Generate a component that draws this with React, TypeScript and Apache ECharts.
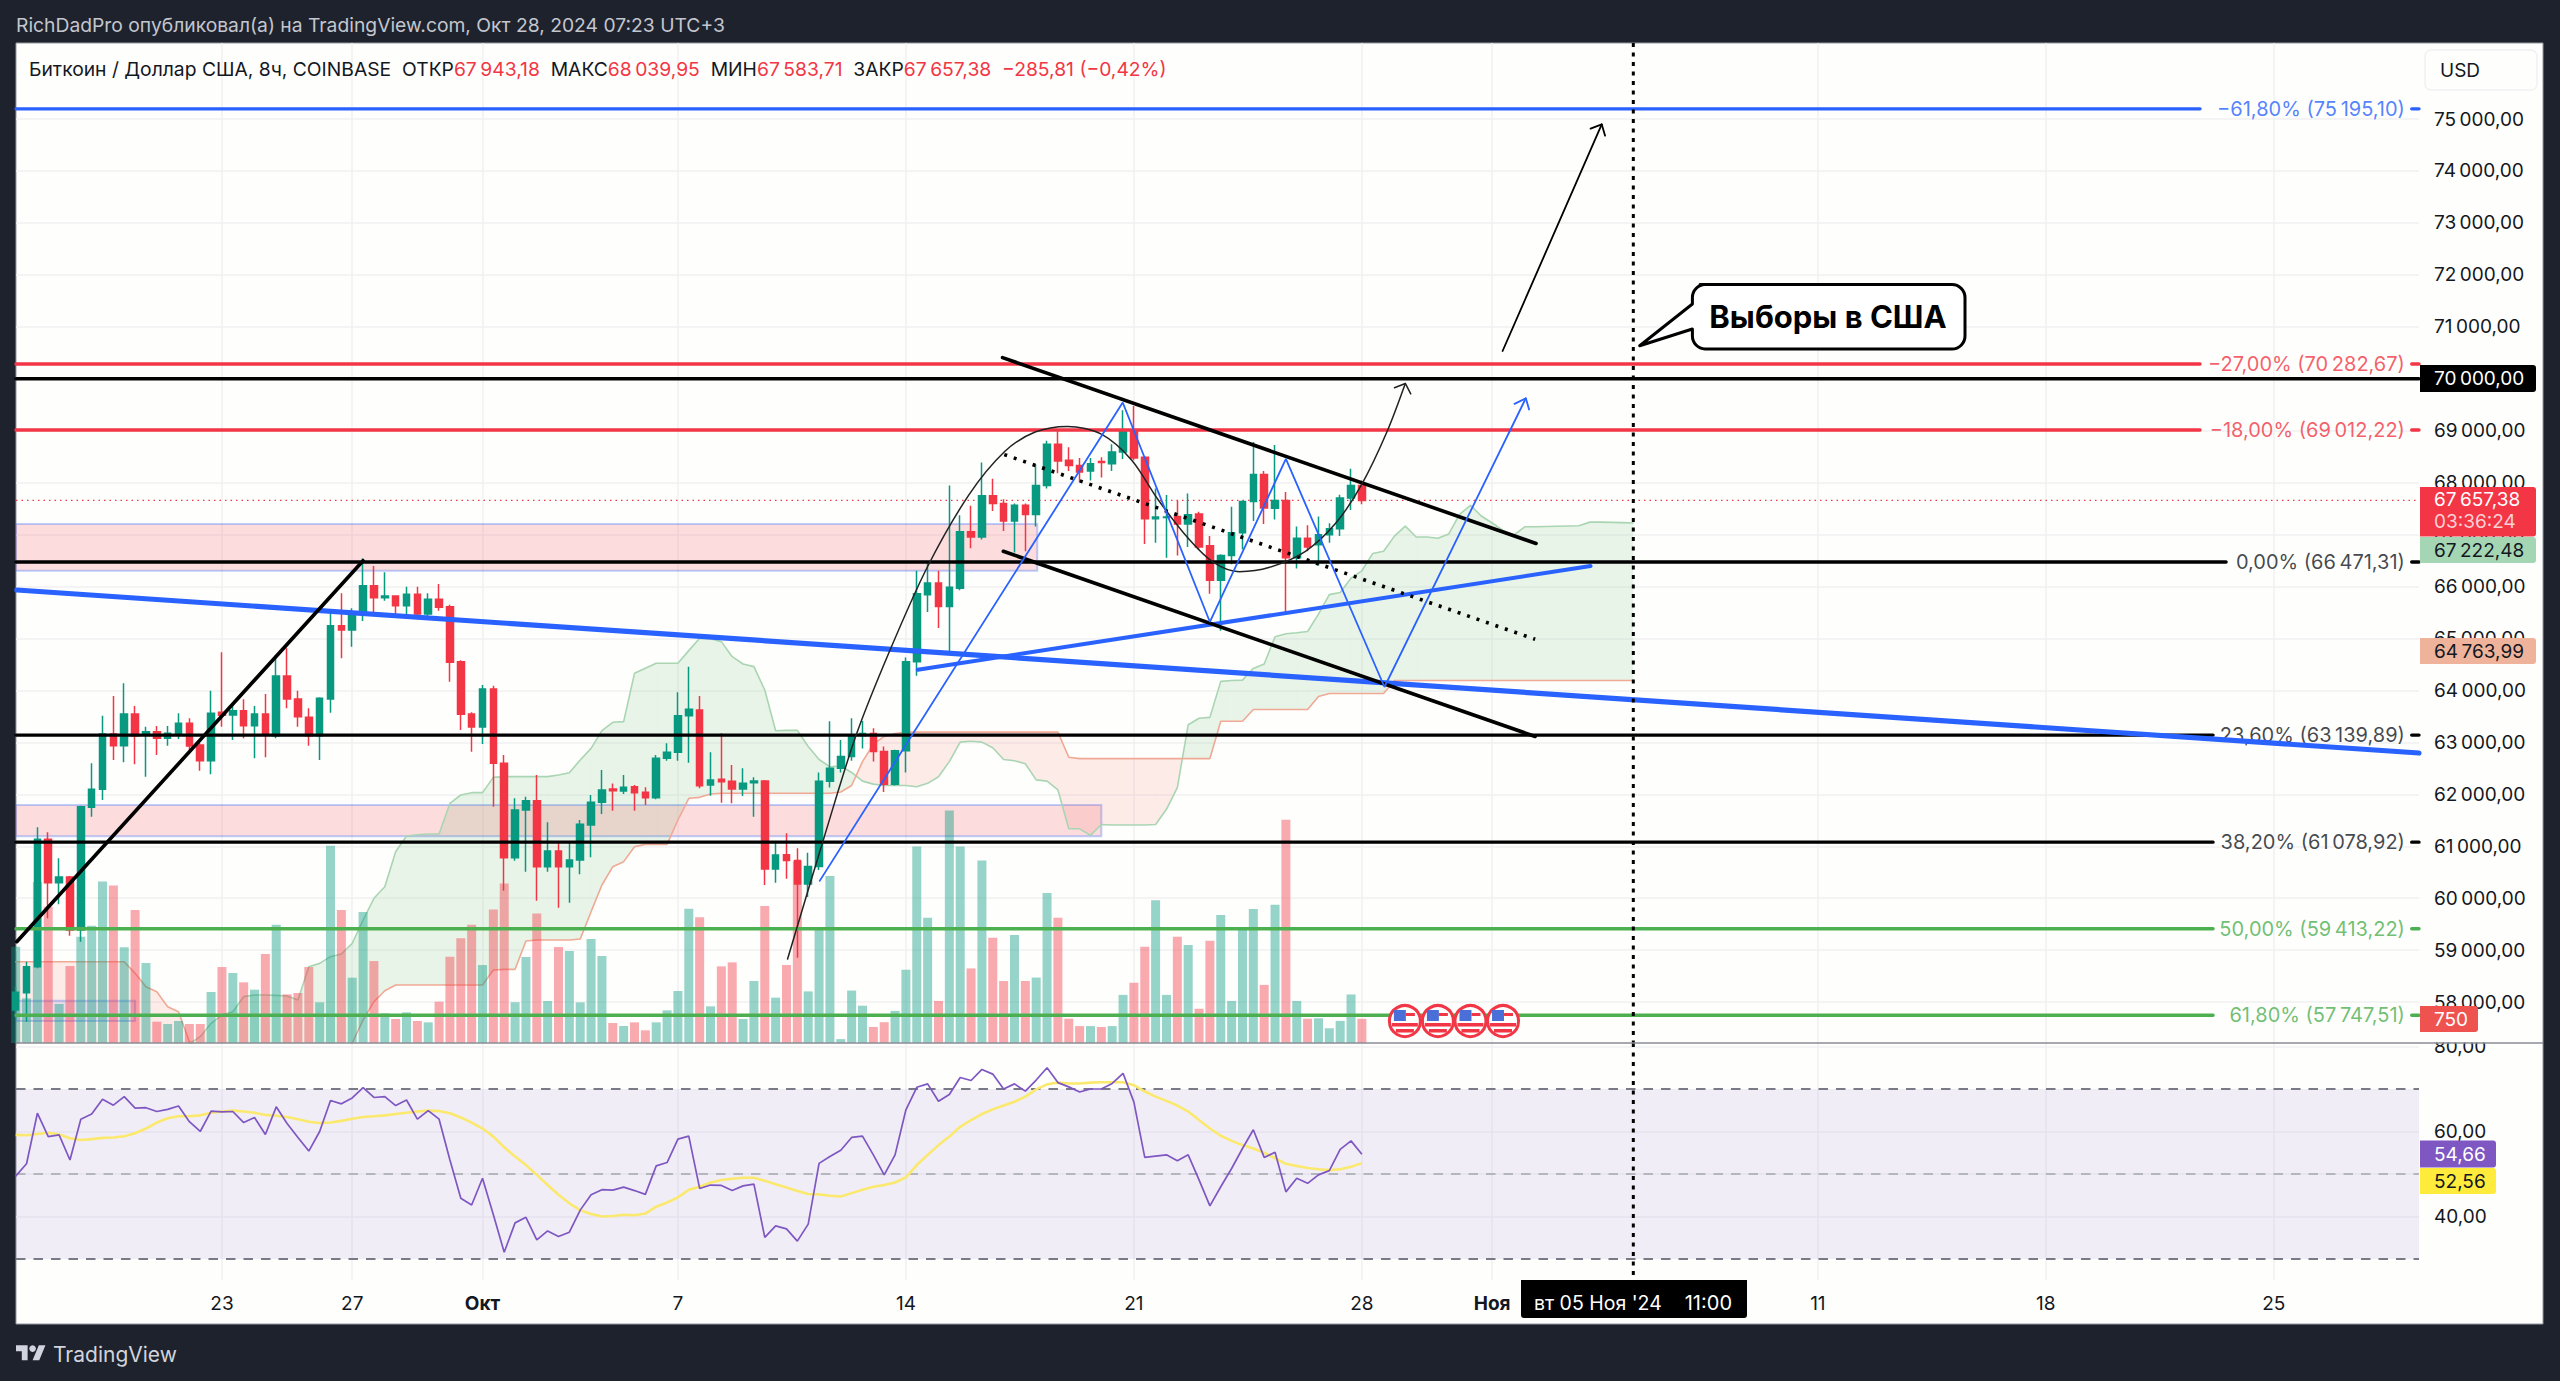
import React, { useEffect, useRef } from "react";
import * as echarts from "echarts";

const W = 2560, H = 1381;
const FONT = "Inter, 'Noto Sans', sans-serif";
const INK = "#131722", GREEN = "#089981", RED = "#f23645", BLUE = "#2962ff";
const X_MIN = 0.03, X_MAX = 221.37;

// 8h candles: index 124 is the 28 Oct bar, index 0 the first partly visible one
const openVals = [57848,58182,58682,61134,60299,60408,59388,61750,62096,63161,62937,63546,63142,63206,63078,63142,63367,62950,62648,63578,63527,63610,63322,63546,63129,64278,63835,63482,63129,63835,65247,65163,65497,66017,65786,65818,65632,65850,65471,65754,65612,64554,63546,63296,64028,62597,60781,61698,61878,60607,60909,60607,60736,61410,61846,62103,62064,62147,62038,61936,62693,62808,63514,63623,62179,62289,62250,62103,62224,62256,60562,60835,60726,60276,60610,62254,62504,62730,63131,63172,62822,62196,62838,64550,65843,66069,65618,65969,67054,66954,67747,67597,67263,67563,67388,67947,68740,68431,68331,68223,68407,68365,68590,69016,68490,67305,67330,67346,67205,67396,66787,66119,66595,67037,67639,68156,67505,67655,66553,66929,66804,66996,67113,67705,67943.18];
const highVals = [58300,58779,61365,61268,60768,60430,61782,62597,63514,63893,64137,63700,63303,63315,63315,63559,63463,62990,63995,64733,63752,63829,63700,63931,64682,64810,63995,63655,63870,65548,65869,65580,66543,66395,66274,65830,65998,65998,65869,66049,65650,64580,63580,64105,64092,62757,61923,61955,62372,61461,61057,61089,61506,61987,62468,62210,62372,62180,62135,62757,62982,63963,64457,63893,62808,63174,62564,62500,62330,62275,61101,61252,60960,60877,62421,63406,63047,63465,63410,63272,62922,62860,64633,66303,66470,66303,67947,67371,67555,68390,68073,67680,67600,67600,68348,68807,69016,68682,68473,68473,68490,68740,69392,69475,68515,67889,67764,67655,67789,67440,66971,66620,67538,67655,68782,68223,68724,67822,67154,67179,67346,67220,67765,68265,68039.95];
const lowVals = [57700,57623,58650,59613,59882,59279,59163,61570,61891,62661,62616,62577,62340,62757,62937,63065,62821,62455,62385,63303,63046,63078,62693,62712,63078,63655,63303,62937,62661,63572,64618,64843,65337,65497,65728,65452,65388,65407,65433,65536,64169,63238,62821,62969,61762,60145,60723,60511,59953,60511,59818,59914,60460,60787,61621,61685,62006,61685,61795,61904,62648,62648,62609,62115,61974,61839,61827,61968,61570,60255,60299,60376,58856,60025,60543,62129,62421,62646,62880,62630,62045,62170,62421,64283,65510,65201,64758,65927,66737,66904,67455,67071,66654,66679,67154,67889,68181,68223,68014,68039,68098,68223,68457,68431,66820,66845,66553,66595,66762,66704,65860,65151,66428,66720,67263,67205,67288,65510,66345,66679,66403,66845,66971,67472,67583.71];
const closeVals = [58188,58682,61134,60299,60408,59388,61762,62096,63161,62937,63546,63129,63206,63078,63174,63367,62930,62648,63559,63521,63610,63322,63546,63142,64278,63835,63495,63129,63848,65247,65163,65497,66017,65786,65818,65632,65850,65471,65754,65600,64541,63540,63296,64028,62597,60781,61698,61878,60607,60909,60607,60736,61422,61846,62083,62070,62135,62032,61936,62693,62808,63514,63636,62167,62276,62244,62103,62212,62256,60562,60832,60726,60276,60610,62254,62504,62730,63131,63170,62822,62196,62838,64550,65860,66069,65618,65986,67054,66954,67747,67597,67263,67563,67388,67947,68740,68415,68331,68206,68365,68390,68590,69016,68473,67305,67338,67340,67205,67380,66762,66119,66595,67037,67639,68156,67513,67655,66553,66929,66762,66996,67113,67705,67947,67657.38];
const volumeVals = [2985,1385,4990,4225,1209,2386,3295,3636,5010,4886,2965,4122,2479,661,589,682,589,589,1581,2355,2169,1880,1653,2758,3667,1508,1550,2355,1260,6115,4122,2025,4060,2541,919,744,950,682,640,1281,2675,3244,3667,2417,4142,4948,1260,2665,4018,1302,2975,2851,1260,3223,2696,620,527,640,393,640,1012,1612,4163,3895,1136,2376,2500,744,1921,4246,1405,2417,5631,1599,3548,5174,120,1626,1156,497,645,995,2271,6088,3884,1304,7204,6088,2312,5658,3266,1922,3347,1922,2029,4650,3884,753,524,524,497,524,1492,1868,2984,4422,1492,3293,3037,1062,3172,3965,1304,3548,4153,1801,4287,6922,1304,753,766,457,685,1505,750];
const rsiVals = [49.5,52.4,64.3,58.8,59.2,53.3,62.9,64.1,67.6,66.2,68.2,65.5,65.6,64.7,65.2,66.0,62.3,60.0,64.8,64.6,64.7,62.1,63.3,59.3,65.8,61.9,58.6,55.4,60.0,67.3,66.5,67.9,70.3,68.0,68.2,66.1,67.4,62.9,64.9,62.9,53.3,44.3,42.7,49.0,40.4,31.6,38.5,39.8,34.5,36.6,35.3,36.3,41.5,45.1,46.3,46.2,46.9,46.1,45.2,51.9,52.7,58.2,58.9,46.6,47.4,47.3,46.1,47.2,47.6,35.1,37.8,37.1,34.2,38.2,52.5,54.1,55.6,58.6,58.9,54.5,49.8,54.5,65.1,70.4,71.2,67.1,68.7,72.7,72.0,74.6,73.5,70.0,71.2,69.5,72.1,75.0,71.5,70.5,69.3,70.0,70.0,71.3,73.7,66.9,53.9,54.2,54.5,53.1,54.5,48.6,42.5,47.0,51.3,56.0,60.4,53.9,55.1,45.8,49.0,47.8,49.8,50.8,55.8,57.8,54.66];
const rsiMaVals = [59.2,59.1,59.4,59.7,59.3,58.4,58.0,58.2,58.5,58.6,58.9,59.6,60.7,62.1,63.1,63.6,63.6,63.8,64.4,64.7,64.9,64.7,64.4,63.9,63.7,63.4,62.9,62.3,62.0,62.1,62.5,63.0,63.4,63.6,63.8,64.1,64.4,64.7,64.9,64.8,64.3,63.3,62.1,60.7,58.8,56.3,54.1,52.1,49.8,47.4,45.1,43.1,41.5,40.6,40.0,40.1,40.4,40.3,40.7,42.3,43.3,44.5,46.3,47.0,48.0,48.6,48.9,49.1,49.1,48.4,47.6,46.8,46.0,45.3,45.2,44.9,44.7,45.5,46.3,47.0,47.4,48.0,49.2,52.1,54.5,56.8,58.8,61.1,62.7,64.1,65.2,66.1,67.0,68.2,69.9,71.1,71.5,71.3,71.3,71.5,71.6,71.6,71.6,70.9,69.4,68.2,67.2,66.1,64.7,62.7,60.7,59.0,57.8,56.8,56.0,55.0,53.7,52.4,51.9,51.4,51.1,50.9,51.1,51.7,52.56];
const spanA = [56000,56100,56200,56300,56400,56500,56600,56700,56750,56800,56850,56880,56900,56950,56980,57050,57200,57335,57591,57752,57816,58105,58137,58137,58130,58117,58041,58682,58746,58875,58926,59132,59581,59998,60222,60896,61198,61223,61236,61236,61827,61987,62032,62032,62327,62340,62340,62340,62340,62340,62372,62417,62661,62885,63226,63386,63399,64329,64425,64522,64522,64522,64766,65003,64997,64939,64650,64509,64458,64008,63225,63231,63231,62922,62671,62530,62546,62421,62254,62196,62171,62171,62171,62146,62212,62338,62630,63005,63022,63005,62897,62671,62646,62588,62279,62254,62087,61336,61336,61211,61419,61410,61410,61410,61410,61419,61712,62129,63339,63465,63481,64174,64191,64199,64424,64508,65034,65092,65109,65134,65468,65844,65885,66161,66303,66637,66678,66971,67163,66954,66954,66929,67012,67388,67562,67358,67223,67080,66990,67150,67150,67155,67160,67165,67170,67240,67240,67235,67230,67222.48];
const spanB = [58778,58778,58778,58778,58778,58778,58778,58778,58778,58778,58778,58554,58297,58201,57912,57816,57239,57100,57000,56950,56900,56850,56850,56850,56850,56850,56850,56850,56850,56900,57000,57213,57656,58008,58220,58329,58329,58329,58329,58329,58329,58329,58329,58329,58618,58631,58631,59176,59196,59196,59196,59196,59215,59741,60255,60607,60704,60992,61037,61037,61037,61506,61923,61942,62006,62020,62020,62020,62020,62020,62020,62020,62020,62020,62020,62020,62045,62170,62630,62964,63114,63172,63197,63197,63197,63197,63197,63197,63197,63197,63197,63197,63197,63197,63197,63197,63197,62713,62688,62688,62688,62688,62688,62688,62688,62688,62688,62688,62688,62688,62688,63406,63406,63406,63632,63632,63632,63632,63632,63632,63882,63940,63940,63940,63940,63940,63940,64191,64191,64191,64191,64191,64191,64191,64191,64191,64191,64191,64191,64191,64191,64191,64191,64191,64191,64191,64191,64191,64191,64191];

// axis ticks, as bar indexes and labels
const dateTickIndex = [19, 31, 43, 61, 82, 103, 124, 136, 166, 187, 208];
const dateTickLabels = ["23", "27", "Окт", "7", "14", "21", "28", "Ноя", "11", "18", "25"];
const priceTicks = [58000,59000,60000,61000,62000,63000,64000,65000,66000,67000,68000,69000,70000,71000,72000,73000,74000,75000];
const rsiTicks = [40, 60, 80];

// Fibonacci levels
const fibLabels = ["−61,80% (75 195,10)", "−27,00% (70 282,67)", "−18,00% (69 012,22)", "0,00% (66 471,31)", "23,60% (63 139,89)", "38,20% (61 078,92)", "50,00% (59 413,22)", "61,80% (57 747,51)"];
const fibPrices = [75195.1, 70282.67, 69012.22, 66471.31, 63139.89, 61078.92, 59413.22, 57747.51];
const fibEnds = [201.2, 201.2, 201.2, 203.6, 202.4, 202.4, 202.4, 202.4];
const fibColors = [BLUE, RED, RED, "#000000", "#000000", "#000000", "#4caf50", "#4caf50"];
const lastPrice = 67657.38;
const roundLevel = 70000;
const electionIndex = 149;

// hand-drawn analysis, as [bar index, price]
const zones = [[0, 94.1, 67204, 66303], [0, 100.0, 61795, 61192]];
const smallZone = [0, 11.0, 58028, 57637];
const thickDown = [[0.1, 65933], [221.37, 62795]];
const thickUp = [[83.09, 64399], [145.06, 66395]];
const leftRise = [[0.1, 59163], [32.0, 66497]];
const channelTop = [[90.9, 70407], [140.04, 66829]];
const channelBottom = [[90.97, 66678], [139.96, 63114]];
const channelMiddle = [[91.06, 68540], [139.96, 64984]];
const cupCurve = [[71.1,58831],[74.4,61127],[77.4,63131],[80.5,64759],[84.0,66386],[87.8,67764],[91.1,68599],[93.9,68974],[96.9,69083],[100.0,68933],[102.8,68432],[105.2,67680],[108.0,66929],[110.3,66470],[112.7,66286],[115.5,66370],[118.8,66678],[121.6,67221],[124.0,67972],[126.3,68974],[128.0,69909]];
const cupHead = [[127.0,69826],[128.0,69909],[128.5,69709]];
const zigzag = [[74.06,60334],[101.97,69542],[110.0,65318],[117.0,68457],[126.08,64066],[139.1,69625]];
const zigzagHead = [[138.06,69517],[139.1,69625],[139.4,69408]];
const bigArrow = [[136.96,70534],[146.09,74898]];
const bigArrowHead = [[145.06,74815],[146.09,74898],[146.4,74679]];
const eventFlags = [[127.96,57636],[131,57636],[134,57636],[137,57636]];

const fmtPrice = (v: number) => {
  const [a, b] = v.toFixed(2).split(".");
  return a.slice(0, a.length - 3) + "\u202F" + a.slice(-3) + "," + b;
};
const nn = (s: string) => s.replace(/(\d) (\d)/g, "$1\u202F$2");

const line = (data: any[], color: string, width: number, extra: any = {}, dash?: any) => ({
  type: "line", xAxisIndex: 0, yAxisIndex: 0, data, symbol: "none", silent: true, z: 6,
  lineStyle: { color, width, type: dash || "solid", cap: dash ? "butt" : "round" }, ...extra,
});

const rectZone = (data: number[][], fill: string, stroke: string, z: number) => ({
  type: "custom", xAxisIndex: 0, yAxisIndex: 0, silent: true, z, clip: true,
  encode: { x: [0, 1], y: [2, 3] }, data,
  renderItem: (_: any, api: any) => {
    const a = api.coord([api.value(0), api.value(2)]);
    const b = api.coord([api.value(1), api.value(3)]);
    return { type: "rect", shape: { x: a[0], y: a[1], width: b[0] - a[0], height: b[1] - a[1] }, style: { fill, stroke, lineWidth: 2 } };
  },
});

function tag(x: number, y: number, w: number, h: number, fill: string, color: string, text: string) {
  return [
    { type: "rect", z: 100, shape: { x, y, width: w, height: h, r: [0, 3, 3, 0] }, style: { fill } },
    { type: "text", z: 101, x: 2434, y: y + h / 2, style: { text, fill: color, font: `19px ${FONT}`, textAlign: "left", textVerticalAlign: "middle" } },
  ];
}

const calloutPath = "M1700 284.6 H1952 A13 13 0 0 1 1965 297.6 V336 A13 13 0 0 1 1952 349 H1705 A13 13 0 0 1 1692.4 336 V329 L1639.7 345.7 L1692.4 304 V297.6 A13 13 0 0 1 1705 284.6 Z";
echarts.graphic.registerShape("callout", echarts.graphic.extendPath(calloutPath, {}) as any);
echarts.graphic.registerShape("tvlogo", echarts.graphic.extendPath("M14 22H7V11H0V4h14v18zM28 22h-8l7.5-18h8L28 22z", {}) as any);

export default function App() {
  const ref = useRef<HTMLDivElement>(null);
  useEffect(() => {
    document.body.style.margin = "0";
    document.documentElement.style.overflow = "hidden";
    const chart = echarts.init(ref.current!, null, { renderer: "svg", width: W, height: H });
    const xs = openVals.map((_, i) => i);
    const grid0 = { left: 16, top: 43, width: 2403, height: 1000 };
    const grid1 = { left: 16, top: 1043, width: 2403, height: 237 };
    const gridLine = { show: true, lineStyle: { color: "#f0f1f3", width: 1.5 } };
    const xCommon = {
      type: "value", min: X_MIN, max: X_MAX, axisLine: { show: false },
      axisTick: { show: false, customValues: dateTickIndex }, splitLine: gridLine,
    };
    const series: any[] = [];

    // zones
    series.push(rectZone(zones, "rgba(242,54,69,0.17)", "rgba(41,98,255,0.3)", 1));
    series.push(rectZone([smallZone], "rgba(41,98,255,0.1)", "rgba(41,98,255,0.3)", 1));

    // Ichimoku cloud
    series.push({
      type: "custom", xAxisIndex: 0, yAxisIndex: 0, silent: true, z: 2, clip: true,
      encode: { x: 0, y: 1 },
      data: spanA.slice(0, -1).map((a, i) => [i, a, spanB[i], spanA[i + 1], spanB[i + 1]]),
      renderItem: (_: any, api: any) => {
        const i = api.value(0);
        const a0 = api.coord([i, api.value(1)]), b0 = api.coord([i, api.value(2)]);
        const a1 = api.coord([i + 1, api.value(3)]), b1 = api.coord([i + 1, api.value(4)]);
        const G = "rgba(67,160,71,0.11)", R = "rgba(244,67,54,0.1)";
        const d0 = api.value(1) - api.value(2), d1 = api.value(3) - api.value(4);
        if (d0 * d1 >= 0) {
          return { type: "polygon", shape: { points: [a0, a1, b1, b0] }, style: { fill: d0 + d1 >= 0 ? G : R } };
        }
        const t = d0 / (d0 - d1);
        const c = [a0[0] + (a1[0] - a0[0]) * t, a0[1] + (a1[1] - a0[1]) * t];
        return {
          type: "group", children: [
            { type: "polygon", shape: { points: [a0, c, b0] }, style: { fill: d0 > 0 ? G : R } },
            { type: "polygon", shape: { points: [c, a1, b1] }, style: { fill: d1 > 0 ? G : R } },
          ],
        };
      },
    });
    series.push(line(spanA.map((v, i) => [i, v]), "#a9d5b2", 1.6, { z: 3 }));
    series.push(line(spanB.map((v, i) => [i, v]), "#efa994", 1.6, { z: 3 }));

    // volume
    series.push({
      type: "bar", xAxisIndex: 0, yAxisIndex: 1, barWidth: 9, silent: true, z: 4,
      data: volumeVals.map((v, i) => ({
        value: [i, v],
        itemStyle: { color: closeVals[i] >= openVals[i] ? "rgba(8,153,129,0.42)" : "rgba(242,54,69,0.42)" },
      })),
    });

    // candles
    series.push({
      type: "candlestick", xAxisIndex: 0, yAxisIndex: 0, barWidth: 7, silent: true, z: 5,
      data: xs.map((i) => [i, openVals[i], closeVals[i], lowVals[i], highVals[i]]),
      itemStyle: { color: GREEN, color0: RED, borderColor: GREEN, borderColor0: RED, borderWidth: 1.5 },
    });

    // levels
    series.push(line([[X_MIN, lastPrice], [X_MAX, lastPrice]], RED, 1.2, { z: 5 }, [1.5, 4]));
    fibPrices.forEach((p, k) => {
      series.push(line([[X_MIN, p], [fibEnds[k], p], [fibEnds[k] + 0.01, null], [220.7, p], [X_MAX, p]], fibColors[k], 3.4, { z: 7 }));
      series.push({
        type: "scatter", xAxisIndex: 0, yAxisIndex: 0, symbolSize: 0, silent: true, z: 8,
        data: [[220.07, p]],
        label: {
          show: true, position: "left", distance: 0, formatter: nn(fibLabels[k]),
          color: fibColors[k] === "#000000" ? INK : fibColors[k], fontFamily: FONT, fontSize: 20,
        },
      });
    });
    series.push(line([[X_MIN, roundLevel], [X_MAX, roundLevel]], "#000000", 3.4, { z: 7 }));

    // drawn lines
    series.push(line(thickDown, BLUE, 5.2, { z: 9 }));
    series.push(line(thickUp, BLUE, 4, { z: 9 }));
    series.push(line(leftRise, "#000000", 3.6, { z: 9 }));
    series.push(line(channelTop, "#000000", 3.6, { z: 9 }));
    series.push(line(channelBottom, "#000000", 3.6, { z: 9 }));
    series.push(line(channelMiddle, "#000000", 3.6, { z: 9 }, [3, 7]));
    series.push(line(cupCurve, "#222222", 1.5, { z: 9, smooth: 0.3 }));
    series.push(line(cupHead, "#222222", 1.5, { z: 9 }));
    series.push(line(zigzag, BLUE, 1.8, { z: 9 }));
    series.push(line(zigzagHead, BLUE, 1.8, { z: 9 }));
    series.push(line(bigArrow, "#000000", 1.8, { z: 9 }));
    series.push(line(bigArrowHead, "#000000", 1.8, { z: 9 }));
    series.push(line([[electionIndex, 76463], [electionIndex, 57213]], "#000000", 3, { z: 20, clip: false }, [4, 5.5]));

    // event flags
    series.push({
      type: "custom", xAxisIndex: 0, yAxisIndex: 0, silent: true, z: 15, clip: false, encode: { x: 0, y: 1 },
      data: eventFlags,
      renderItem: (_: any, api: any) => {
        const [cx, cy] = api.coord([api.value(0), api.value(1)]);
        const kids: any[] = [
          { type: "circle", shape: { cx, cy, r: 15.5 }, style: { fill: "#fff", stroke: RED, lineWidth: 3 } },
          { type: "rect", shape: { x: cx - 11, y: cy - 11, width: 12, height: 11 }, style: { fill: "#4a6fd8" } },
          { type: "rect", shape: { x: cx + 1, y: cy - 8, width: 9, height: 3 }, style: { fill: RED } },
          { type: "rect", shape: { x: cx - 13, y: cy + 2, width: 26, height: 3.5 }, style: { fill: RED } },
          { type: "rect", shape: { x: cx - 9, y: cy + 8, width: 18, height: 3.5 }, style: { fill: RED } },
        ];
        return { type: "group", children: kids };
      },
    });

    // RSI
    series.push({
      type: "line", xAxisIndex: 1, yAxisIndex: 2, symbol: "none", silent: true, z: 5,
      data: rsiMaVals.map((v, i) => [i, v]), lineStyle: { color: "#fbe96d", width: 2.6 },
      markArea: { silent: true, itemStyle: { color: "rgba(126,87,194,0.1)" }, data: [[{ yAxis: 70 }, { yAxis: 30 }]] },
      markLine: {
        silent: true, symbol: "none", label: { show: false },
        data: [
          { yAxis: 70, lineStyle: { color: "#787b86", type: [9.5, 8], width: 2 } },
          { yAxis: 50, lineStyle: { color: "#b4b6bd", type: [9.5, 8], width: 2 } },
          { yAxis: 30, lineStyle: { color: "#787b86", type: [9.5, 8], width: 2 } },
        ],
      },
    });
    series.push({
      type: "line", xAxisIndex: 1, yAxisIndex: 2, symbol: "none", silent: true, z: 6,
      data: rsiVals.map((v, i) => [i, v]), lineStyle: { color: "#7e57c2", width: 1.7 },
    });
    series.push({
      type: "line", xAxisIndex: 1, yAxisIndex: 2, symbol: "none", silent: true, z: 20,
      data: [[electionIndex, 80.82], [electionIndex, 25.06]],
      lineStyle: { color: "#000000", width: 3, type: [4, 5.5] },
    });

    const legendRich = {
      k: { fontFamily: FONT, fontSize: 19.3, fill: INK, color: INK },
      r: { fontFamily: FONT, fontSize: 19.3, fill: RED, color: RED },
    };

    const graphic: any[] = [
      { type: "rect", z: -10, silent: true, shape: { x: 16, y: 43, width: 2527, height: 1281 }, style: { fill: "#fefefc", stroke: "#9598a1", lineWidth: 1 } },
      { type: "text", z: 101, x: 16, y: 25, style: { text: "RichDadPro опубликовал(а) на TradingView.com, Окт 28, 2024 07:23 UTC+3", fill: "#c3c6ce", font: `19.3px ${FONT}`, textVerticalAlign: "middle" } },
      { type: "text", z: 101, x: 29, y: 69, style: {
          text: "{k|Биткоин / Доллар США, 8ч, COINBASE  ОТКР}{r|67\u202F943,18}{k|  МАКС}{r|68\u202F039,95}{k|  МИН}{r|67\u202F583,71}{k|  ЗАКР}{r|67\u202F657,38}{r|  −285,81 (−0,42%)}",
          rich: legendRich, textVerticalAlign: "middle",
        } },
      { type: "rect", z: 100, shape: { x: 2425, y: 50, width: 112, height: 40, r: 6 }, style: { fill: "#fefefc", stroke: "#f0f1f3", lineWidth: 1.5 } },
      { type: "text", z: 101, x: 2440, y: 70, style: { text: "USD", fill: INK, font: `19px ${FONT}`, textVerticalAlign: "middle" } },
      { type: "rect", z: 50, shape: { x: 2421, y: 1033, width: 120, height: 9.5 }, style: { fill: "#fefefc" } },
      { type: "line", z: 60, shape: { x1: 16, y1: 1043, x2: 2543, y2: 1043 }, style: { stroke: "#8a8d96", lineWidth: 1.6 } },
      ...tag(2420, 365, 116, 27, "#000000", "#ffffff", fmtPrice(70000)),
      { type: "rect", z: 100, shape: { x: 2420, y: 487, width: 116, height: 49.5, r: [0, 3, 3, 0] }, style: { fill: RED } },
      { type: "text", z: 101, x: 2434, y: 499, style: { text: fmtPrice(67657.38), fill: "#fff", font: `19px ${FONT}`, textVerticalAlign: "middle" } },
      { type: "text", z: 101, x: 2434, y: 521, style: { text: "03:36:24", fill: "#fbd0d4", font: `19px ${FONT}`, textVerticalAlign: "middle" } },
      ...tag(2420, 537, 116, 26, "#a5d6b4", INK, fmtPrice(67222.48)),
      ...tag(2420, 638, 116, 26, "#efb39b", INK, fmtPrice(64763.99)),
      ...tag(2420, 1006, 58, 26, "#ef5350", "#ffffff", "750"),
      ...tag(2420, 1140.5, 76, 27, "#7e57c2", "#ffffff", "54,66"),
      ...tag(2420, 1168, 76, 26, "#ffeb3b", INK, "52,56"),
      { type: "rect", z: 100, shape: { x: 1521, y: 1280, width: 226, height: 38, r: [0, 0, 3, 3] }, style: { fill: "#000000" } },
      { type: "text", z: 101, x: 1534, y: 1303, style: { text: "вт 05 Ноя '24", fill: "#fff", font: `19.5px ${FONT}`, textVerticalAlign: "middle" } },
      { type: "text", z: 101, x: 1732, y: 1303, style: { text: "11:00", fill: "#fff", font: `20px ${FONT}`, textAlign: "right", textVerticalAlign: "middle" } },
      { type: "callout", z: 102, style: { fill: "#ffffff", stroke: "#000000", lineWidth: 3, lineJoin: "round" } },
      { type: "text", z: 103, x: 1828, y: 316, style: { text: "Выборы в США", fill: "#000", font: `bold 31px ${FONT}`, textAlign: "center", textVerticalAlign: "middle" } },
      { type: "tvlogo", z: 101, x: 16, y: 1342, scaleX: 0.83, scaleY: 0.83, style: { fill: "#d1d4dc" } },
      { type: "circle", z: 101, shape: { cx: 32.6, cy: 1348.6, r: 3.3 }, style: { fill: "#d1d4dc" } },
      { type: "text", z: 101, x: 53, y: 1354, style: { text: "TradingView", fill: "#d1d4dc", font: `21px ${FONT}`, textVerticalAlign: "middle" } },
    ];

    const tickLabel = (v: number) => {
      const k = dateTickIndex.indexOf(v);
      if (k < 0) return "";
      const t = dateTickLabels[k];
      return t === "Окт" || t === "Ноя" ? `{b|${t}}` : t;
    };

    chart.setOption({
      animation: false,
      backgroundColor: "#1e222d",
      grid: [grid0, grid1],
      xAxis: [
        { ...xCommon, gridIndex: 0, axisLabel: { show: false, customValues: dateTickIndex } },
        {
          ...xCommon, gridIndex: 1,
          axisLabel: {
            show: true, customValues: dateTickIndex, margin: 14, formatter: tickLabel,
            color: INK, fontFamily: FONT, fontSize: 19, hideOverlap: false,
            rich: { b: { fontWeight: "bold", fontFamily: FONT, fontSize: 19, color: INK } },
          },
        },
      ],
      yAxis: [
        {
          type: "value", gridIndex: 0, position: "right", min: 57213, max: 76463, scale: true,
          axisLine: { show: false }, axisTick: { show: false, customValues: priceTicks }, splitLine: gridLine,
          axisLabel: { customValues: priceTicks, margin: 15, padding: [0, 0, 2, 0], formatter: (v: number) => fmtPrice(v), color: INK, fontFamily: FONT, fontSize: 19, align: "left", hideOverlap: false, showMinLabel: true, showMaxLabel: true },
        },
        { type: "value", gridIndex: 0, min: 0, max: 31000, show: false },
        {
          type: "value", gridIndex: 1, position: "right", min: 25.06, max: 80.82,
          axisLine: { show: false }, axisTick: { show: false, customValues: rsiTicks.concat([50]).sort() }, splitLine: gridLine,
          axisLabel: { customValues: rsiTicks, margin: 15, padding: [0, 0, 2, 0], formatter: (v: number) => v.toFixed(2).replace(".", ","), color: INK, fontFamily: FONT, fontSize: 19, align: "left", hideOverlap: false },
        },
      ],
      series,
      graphic: { elements: graphic },
    });
    return () => chart.dispose();
  }, []);
  return <div ref={ref} style={{ width: W, height: H }} />;
}
